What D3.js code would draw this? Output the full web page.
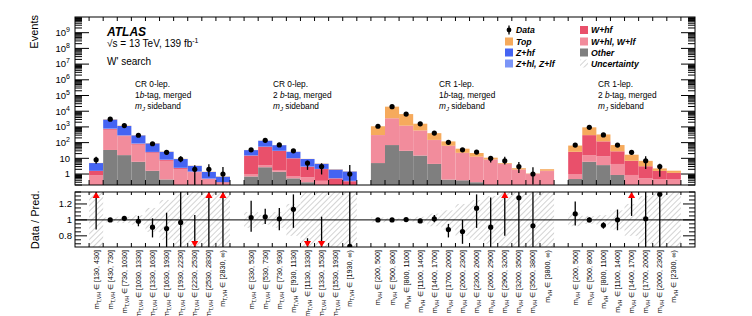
<!DOCTYPE html>
<html><head><meta charset="utf-8">
<script src="https://cdn.jsdelivr.net/npm/d3@7"></script>
<style>body{margin:0;background:#fff} text{font-family:"Liberation Sans",Arial,Helvetica,sans-serif;fill:#000}</style>
</head><body><svg id="c" width="752" height="316"></svg>
<script>
// ---------------- data ----------------
const regionCounts = [10, 8, 13, 8];
const regionLep = ["0", "0", "1", "1"];
const regionBtag = ["1", "2", "1", "2"];
const binVar = ["T,VH", "T,VH", "VH", "VH"];
const binRanges = [
  ["[130, 430]","[430, 730]","[730, 1030]","[1030, 1330]","[1330, 1630]","[1630, 1930]","[1930, 2230]","[2230, 2530]","[2530, 2830]","[2830, ∞)"],
  ["[330, 530]","[530, 730]","[730, 930]","[930, 1130]","[1130, 1330]","[1330, 1530]","[1530, 1930]","[1930, ∞)"],
  ["[200, 500]","[500, 800]","[800, 1100]","[1100, 1400]","[1400, 1700]","[1700, 2000]","[2000, 2300]","[2300, 2600]","[2600, 2900]","[2900, 3200]","[3200, 3500]","[3500, 3800]","[3800, ∞)"],
  ["[200, 500]","[500, 800]","[800, 1100]","[1100, 1400]","[1400, 1700]","[1700, 2000]","[2000, 2300]","[2300, ∞)"]
];
const otherBkg = [0.05,34,16,6,1.6,0.45,0.2,0.1,0.05,0.02, 0.7,2.7,1.4,0.53,0.3,0.1,0.1,0.05, 5,70,30,15,4.4,0.44,0.4,0.3,0.2,0.1,0.05,0.03,0.03, 0.48,6,3.7,0.87,0.15,0.05,0.03,0.03];
const wlfBkg   = [0.8,626,234,68,20,6.5,1.9,1.2,0.4,0.25, 0.3,1.0,0.4,0.17,0.32,0.27,0.1,0.1, 290,3400,1140,560,140,60,21,12,8,4.2,1.8,0.95,1.5, 0.52,10,9.7,3.5,0.72,0.48,0.45,0.45];
const whfBkg   = [0.75,90,30,11,3,1,0.3,0.1,0.05,0.03, 14,51,28,9.3,2.3,1.7,0.33,0.2, 10,100,40,20,5,3,1,0.5,0.3,0.2,0.1,0.05,0.1, 25,284,107,23.6,6.1,2.6,1.1,0.7];
const zlfBkg   = [0,40,15,4,1,0.3,0.1,0.05,0.02,0.01, 0.3,1,0.5,0.2,0.1,0.05,0.02,0.02, 0,0,0,0,0,0,0,0,0,0,0,0,0, 0,0,0,0,0,0,0,0];
const zhfBkg   = [3.4,2160,855,201,64,17.7,6.5,1.85,0.83,0.36, 18.2,76,38.5,15.8,6.0,2.35,1.38,1.08, 0,0,0,0,0,0,0,0,0,0,0,0,0, 0,0,0,0,0,0,0,0];
const topBkg   = [0.1,150,50,10,4,1,0.3,0.1,0.05,0.03, 0.5,3,1.2,0.5,0.2,0.2,0.1,0.05, 795,15930,5360,1005,250,56,18.6,9,2.5,0.5,0.4,0.05,0.4, 39,640,210,42,10,3.77,0.69,0.45];
const dataVals = [8,3100,1225,295,85,24,9,2,2,1, 35,140,71,30,5,3,0,1, 1100,19500,6600,1580,405,105,35,25,10,7,3,1,0, 70,940,308,70,24,7,3,0];
// data/pred error bar extent (ratio units)
const errLo = [0.88,0.98,0.99,0.92,0.78,0.64,0.6,0.0,0.5,0.3, 0.85,0.95,0.87,0.90,0.2,0.2,null,0.1, 0.99,0.995,0.99,0.97,0.97,0.78,0.70,0.9,0.5,0.8,0.5,0.2,null, 0.93,0.97,0.89,0.87,1.05,0.3,0.3,null];
const errHi = [2.5,1.02,1.05,1.05,1.02,1.09,1.45,1.06,3.0,4.0, 1.24,1.14,1.15,1.32,0.77,1.04,null,2.5, 1.01,1.005,1.02,1.0,1.06,0.95,1.0,1.32,1.28,2.5,2.5,2.5,null, 1.23,1.03,0.97,1.13,2.0,2.0,2.0,null];
// relative background uncertainty
const uncRel = [0.5,0.03,0.04,0.06,0.15,0.25,0.4,0.5,0.5,0.6, 0.1,0.06,0.1,0.2,0.35,0.4,0.5,0.5, 0.03,0.02,0.02,0.04,0.08,0.12,0.2,0.25,0.3,0.35,0.4,0.5,0.5, 0.08,0.05,0.06,0.12,0.2,0.3,0.4,0.5];
const yTickExp = [0,1,2,3,4,5,6,7,8,9];
const ratioTicks = [0.8, 1, 1.2];

const layers = [
  {key:"other", vals:otherBkg, color:"#7f7f7f", name:"Other"},
  {key:"wlf", vals:wlfBkg, color:"#f28c9c", name:"W+hl, W+lf"},
  {key:"whf", vals:whfBkg, color:"#e9506b", name:"W+hf"},
  {key:"zlf", vals:zlfBkg, color:"#7b95f7", name:"Z+hl, Z+lf"},
  {key:"zhf", vals:zhfBkg, color:"#4564f3", name:"Z+hf"},
  {key:"top", vals:topBkg, color:"#f6aa5c", name:"Top"}
];

// ---------------- layout ----------------
const svg = d3.select("#c");
const L = 75, R = 695, T1 = 17, B1 = 185, T2 = 192, B2 = 247;
const nSlots = d3.sum(regionCounts) + regionCounts.length + 1;
const x = d3.scaleLinear().domain([0, nSlots]).range([L, R]);
const slots = []; const binRegion = []; const binInRegion = [];
{ let s = 1; regionCounts.forEach((c, r) => { for (let i = 0; i < c; i++) { slots.push(s + i); binRegion.push(r); binInRegion.push(i); } s += c + 1; }); }
const nb = slots.length;
const y1 = d3.scaleLog().domain([0.2, 1e10]).range([B1, T1]).clamp(true);
const y2 = d3.scaleLinear().domain([0.66, 1.35]).range([B2, T2]);

const defs = svg.append("defs");
defs.append("clipPath").attr("id","cp1").append("rect").attr("x",L).attr("y",T1).attr("width",R-L).attr("height",B1-T1);
defs.append("clipPath").attr("id","cp2").append("rect").attr("x",L).attr("y",T2).attr("width",R-L).attr("height",B2-T2);
const pat = defs.append("pattern").attr("id","hatch").attr("patternUnits","userSpaceOnUse")
  .attr("width",4).attr("height",4).attr("patternTransform","rotate(45)");
pat.append("line").attr("x1",0).attr("y1",0).attr("x2",0).attr("y2",4).attr("stroke","#a8a8a8").attr("stroke-width",1);

// ---------------- upper panel ----------------
const g1 = svg.append("g").attr("clip-path","url(#cp1)");
const mc = d3.range(nb).map(i => d3.sum(layers, l => l.vals[i]));
for (let i = 0; i < nb; i++) {
  let cum = 0;
  layers.forEach(l => {
    const v = l.vals[i]; if (!v) return;
    const lo = cum, hi = cum + v; cum = hi;
    const ya = y1(Math.max(lo, 0.2)), yb = y1(hi);
    if (ya - yb <= 0) return;
    g1.append("rect").attr("x", x(slots[i])).attr("width", x(slots[i]+1)-x(slots[i]))
      .attr("y", yb).attr("height", ya - yb).attr("fill", l.color);
  });
}
for (let i = 0; i < nb; i++) {
  if (!dataVals[i]) continue;
  const cx = x(slots[i] + 0.5);
  const lo = Math.max(errLo[i]*mc[i], 0.2), hi = errHi[i]*mc[i];
  g1.append("line").attr("x1",cx).attr("x2",cx).attr("y1",y1(lo)).attr("y2",y1(hi)).attr("stroke","#000").attr("stroke-width",1.3);
  g1.append("circle").attr("cx",cx).attr("cy",y1(dataVals[i])).attr("r",2.6).attr("fill","#000");
}

// ---------------- lower panel ----------------
const g2 = svg.append("g").attr("clip-path","url(#cp2)");
for (let i = 0; i < nb; i++) {
  const u = uncRel[i];
  g2.append("rect").attr("x", x(slots[i])).attr("width", x(slots[i]+1)-x(slots[i]))
    .attr("y", y2(1+u)).attr("height", y2(1-u)-y2(1+u)).attr("fill","url(#hatch)");
}
g2.append("line").attr("x1",L).attr("x2",R).attr("y1",y2(1)).attr("y2",y2(1)).attr("stroke","#000").attr("stroke-width",1);
for (let i = 0; i < nb; i++) {
  if (!dataVals[i]) continue;
  const cx = x(slots[i] + 0.5);
  const r = dataVals[i] / mc[i];
  g2.append("line").attr("x1",cx).attr("x2",cx).attr("y1",y2(Math.max(errLo[i],0.5))).attr("y2",y2(Math.min(errHi[i],1.6)))
    .attr("stroke","#000").attr("stroke-width",1.3);
  if (r > 1.35) {
    g2.append("path").attr("d", d3.symbol(d3.symbolTriangle, 22)()).attr("transform",`translate(${cx},${T2+4})`).attr("fill","#f00");
  } else if (r < 0.66) {
    g2.append("path").attr("d", d3.symbol(d3.symbolTriangle, 22)()).attr("transform",`translate(${cx},${B2-4}) rotate(180)`).attr("fill","#f00");
  } else {
    g2.append("circle").attr("cx",cx).attr("cy",y2(r)).attr("r",2.6).attr("fill","#000");
  }
}

// ---------------- frames and ticks ----------------
const ax = svg.append("g").attr("stroke","#000").attr("fill","none");
ax.append("rect").attr("x",L).attr("y",T1).attr("width",R-L).attr("height",B1-T1).attr("stroke-width",1);
ax.append("rect").attr("x",L).attr("y",T2).attr("width",R-L).attr("height",B2-T2).attr("stroke-width",1);
for (let k = 1; k < nSlots; k++) {
  const xx = x(k);
  ax.append("line").attr("x1",xx).attr("x2",xx).attr("y1",B1).attr("y2",B1-5);
  ax.append("line").attr("x1",xx).attr("x2",xx).attr("y1",T1).attr("y2",T1+4);
  ax.append("line").attr("x1",xx).attr("x2",xx).attr("y1",B2).attr("y2",B2-4);
  ax.append("line").attr("x1",xx).attr("x2",xx).attr("y1",T2).attr("y2",T2+3);
}
for (let n = -1; n <= 9; n++) {
  for (let k = 1; k <= 9; k++) {
    const v = k * Math.pow(10, n);
    if (v < 0.2 || v > 1e10) continue;
    const yy = y1(v), len = k === 1 ? 14 : 7;
    ax.append("line").attr("x1",L).attr("x2",L+len).attr("y1",yy).attr("y2",yy);
    ax.append("line").attr("x1",R).attr("x2",R-len).attr("y1",yy).attr("y2",yy);
  }
}
for (let v = 0.7; v <= 1.35001; v += 0.05) {
  const vv = Math.round(v*100)/100;
  const major = ratioTicks.some(t => Math.abs(t - vv) < 1e-6);
  const yy = y2(vv), len = major ? 12 : 6;
  ax.append("line").attr("x1",L).attr("x2",L+len).attr("y1",yy).attr("y2",yy);
  ax.append("line").attr("x1",R).attr("x2",R-len).attr("y1",yy).attr("y2",yy);
}

// ---------------- axis labels ----------------
const lab = svg.append("g");
yTickExp.forEach(e => {
  const t = lab.append("text").attr("x",70).attr("y",y1(Math.pow(10,e))).attr("dy","0.35em")
    .attr("text-anchor","end").attr("font-size",9.5);
  if (e === 0) t.text("1");
  else if (e === 1) t.text("10");
  else { t.append("tspan").text("10"); t.append("tspan").attr("dy",-4).attr("font-size",7).text(e); }
});
ratioTicks.forEach(v => {
  lab.append("text").attr("x",72).attr("y",y2(v)).attr("dy","0.35em").attr("text-anchor","end").attr("font-size",9.5).text(v === 1 ? "1" : v);
});
lab.append("text").attr("transform","translate(38,15) rotate(-90)").attr("text-anchor","end").attr("font-size",11).text("Events");
lab.append("text").attr("transform",`translate(39,${y2(1)}) rotate(-90)`).attr("text-anchor","middle").attr("font-size",11).text("Data / Pred.");

for (let i = 0; i < nb; i++) {
  const cx = x(slots[i] + 0.5);
  const t = lab.append("text").attr("transform",`translate(${cx+2.5},250) rotate(-90)`).attr("text-anchor","end").attr("font-size",7.2);
  t.append("tspan").text("m");
  t.append("tspan").attr("font-size",5.2).attr("dy",2).text(binVar[binRegion[i]]);
  t.append("tspan").attr("dy",-2).text(" ∈ " + binRanges[binRegion[i]][binInRegion[i]]);
}

lab.append("text").attr("x",107).attr("y",36).attr("font-size",12).attr("font-weight","bold").attr("font-style","italic").text("ATLAS");
{
  const t = lab.append("text").attr("x",107).attr("y",46.5).attr("font-size",10);
  t.append("tspan").text("√s = 13 TeV, 139 fb");
  t.append("tspan").attr("dy",-4).attr("font-size",7).text("-1");
}
lab.append("text").attr("x",107).attr("y",64.5).attr("font-size",10).text("W' search");

const regionX = [135, 273, 439, 598];
regionX.forEach((rx, r) => {
  lab.append("text").attr("x",rx).attr("y",86.5).attr("font-size",8.3).text(`CR ${regionLep[r]}-lep.`);
  const t2 = lab.append("text").attr("x",rx).attr("y",98).attr("font-size",8.3);
  t2.append("tspan").text(regionBtag[r] + (r === 1 || r === 3 ? " " : ""));
  t2.append("tspan").attr("font-style","italic").text("b");
  t2.append("tspan").text("-tag, merged");
  const t3 = lab.append("text").attr("x",rx).attr("y",108.5).attr("font-size",8.3);
  t3.append("tspan").attr("font-style","italic").text("m");
  t3.append("tspan").attr("font-size",6).attr("dy",2).attr("font-style","italic").text("J");
  t3.append("tspan").attr("dy",-2).text(" sideband");
});

const leg = svg.append("g").attr("font-size",8.7).attr("font-weight","bold").attr("font-style","italic");
const legRows = [30, 41.5, 52.5, 63.5];
const col1 = [{name:"Data"}, layers[5], layers[4], layers[3]];
const col2 = [layers[2], layers[1], layers[0], {name:"Uncertainty", hatch:true}];
function legItem(item, bx, yy) {
  if (item.name === "Data") {
    leg.append("line").attr("x1",bx+4).attr("x2",bx+4).attr("y1",yy-4.5).attr("y2",yy+4.5).attr("stroke","#000").attr("stroke-width",1.3);
    leg.append("circle").attr("cx",bx+4).attr("cy",yy).attr("r",2.4).attr("fill","#000");
  } else if (item.hatch) {
    leg.append("rect").attr("x",bx).attr("y",yy-4).attr("width",8).attr("height",8).attr("fill","url(#hatch)");
  } else {
    leg.append("rect").attr("x",bx).attr("y",yy-4).attr("width",8).attr("height",8).attr("fill",item.color);
  }
  leg.append("text").attr("x",bx+11).attr("y",yy).attr("dy","0.35em").text(item.name);
}
col1.forEach((it, k) => legItem(it, 505, legRows[k]));
col2.forEach((it, k) => legItem(it, 580, legRows[k]));
</script></body></html>
